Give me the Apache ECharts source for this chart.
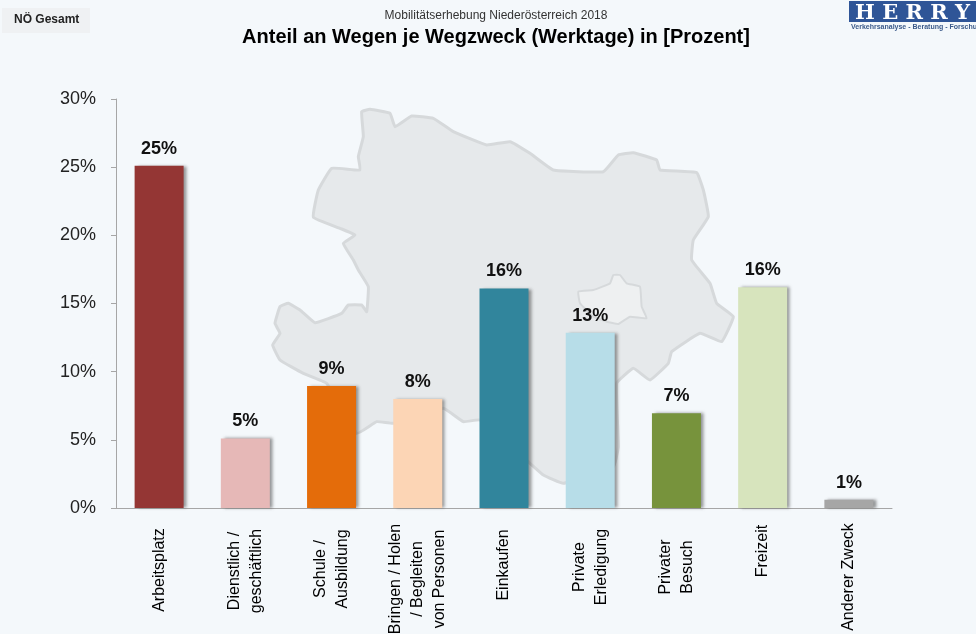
<!DOCTYPE html>
<html>
<head>
<meta charset="utf-8">
<title>Anteil an Wegen je Wegzweck</title>
<script src="https://cdn.jsdelivr.net/npm/echarts@6/dist/echarts.min.js"></script>
<style>
	html, body { margin: 0; padding: 0; background: #f4f8fb; }
	#myCharts { width: 976px; height: 634px; }
</style>
</head>
<body>
<div id="myCharts"></div>
<script>
	const categories = ['Arbeitsplatz', 'Dienstlich /\ngeschäftlich', 'Schule /\nAusbildung', 'Bringen / Holen\n/ Begleiten\nvon Personen', 'Einkaufen', 'Private\nErledigung', 'Privater\nBesuch', 'Freizeit', 'Anderer Zweck'];
	const values = [25.1, 5.1, 8.95, 8.0, 16.1, 12.85, 6.95, 16.2, 0.6];
	const barColors = ['#943634', '#e6b8b7', '#e46c0a', '#fcd5b5', '#31859c', '#b7dde8', '#77933c', '#d7e4bd', '#a6a6a6'];
	// the rotated labels hang from one top edge, with centred lines: shift each one along the axis direction
	const labelShift = [0, 1, -1, 9, -5, -3, -3, -19, 7];

	// map silhouette behind the bars (zoomed by 3, origin 260/100)
	const mapOutline = [[305,35],[330,28],[390,40],[405,80],[455,48],[520,55],[580,95],[680,135],[750,125],[810,160],[880,210],[1030,215],[1075,165],[1120,158],[1190,180],[1200,210],[1310,218],[1330,270],[1345,350],[1300,420],[1295,480],[1350,550],[1370,610],[1420,650],[1385,725],[1320,700],[1235,755],[1225,790],[1170,840],[1120,805],[1070,850],[1075,1040],[1060,1100],[910,1150],[850,1125],[810,1090],[660,960],[610,965],[550,925],[400,970],[350,965],[290,1000],[200,850],[130,820],[60,780],[38,735],[60,700],[45,670],[60,620],[85,610],[120,630],[165,668],[245,640],[265,615],[305,615],[320,635],[325,560],[295,510],[280,480],[250,430],[285,405],[240,385],[160,352],[175,270],[215,205],[300,210],[295,170],[310,110]];
	const wienOutline = [[955,575],[1000,570],[1050,550],[1060,525],[1080,525],[1100,550],[1140,560],[1145,620],[1160,655],[1110,650],[1075,672],[1040,665],[1000,650],[960,610]];

	function toPage(points) {
		return points.map(function (p) {
			return [p[0] / 3 + 260, p[1] / 3 + 100];
		});
	}

	let mychart = echarts.init(document.getElementById('myCharts'));
	mychart.setOption({
		animation: false,
		backgroundColor: '#f4f8fb',
		textStyle: { fontFamily: 'Liberation Sans' },
		title: [
			{ text: 'Mobilitätserhebung Niederösterreich 2018', left: 491, top: 5, textAlign: 'center', textStyle: { fontSize: 12, fontWeight: 'normal', color: '#333' } },
			{ text: 'Anteil an Wegen je Wegzweck (Werktage) in [Prozent]', left: 491, top: 22, textAlign: 'center', textStyle: { fontSize: 20, fontWeight: 'bold', color: '#000' } }
		],
		grid: { left: 116, right: 84, top: 99, bottom: 126, outerBoundsMode: 'none' },
		xAxis: {
			type: 'category',
			data: categories.map(function (c, i) {
				return {
					value: c,
					textStyle: {
						align: 'center',
						verticalAlign: 'middle',
						padding: labelShift[i] > 0 ? [0, labelShift[i] * 2, 0, 0] : [0, 0, 0, -labelShift[i] * 2]
					}
				};
			}),
			axisLine: { lineStyle: { color: '#a6a6a6' } },
			axisTick: { show: false },
			axisLabel: { interval: 0, rotate: 90, align: 'center', verticalAlign: 'middle', margin: 62, fontSize: 16, color: '#000', lineHeight: 22 }
		},
		yAxis: {
			type: 'value',
			min: 0,
			max: 30,
			interval: 5,
			splitLine: { show: false },
			axisLine: { show: true, lineStyle: { color: '#a6a6a6' } },
			axisTick: { show: true, length: 5, lineStyle: { color: '#a6a6a6' } },
			axisLabel: { formatter: '{value}%', fontSize: 18, color: '#222', margin: 20 }
		},
		series: [{
			type: 'bar',
			z: 3,
			barWidth: 49,
			data: values.map(function (v, i) {
				return { value: v, itemStyle: { color: barColors[i] } };
			}),
			itemStyle: { shadowColor: 'rgba(70,70,70,0.55)', shadowBlur: 3, shadowOffsetX: 3, shadowOffsetY: 0 },
			label: {
				show: true,
				position: 'top',
				distance: 8,
				fontSize: 18,
				fontWeight: 'bold',
				color: '#111',
				formatter: function (p) {
					return Math.round(p.value) + '%';
				}
			}
		}],
		graphic: [
			{ type: 'polygon', z: -2, shape: { points: toPage(mapOutline), smooth: 0.1 }, style: { fill: '#e6e9eb', stroke: '#d6d9db', lineWidth: 3, lineJoin: 'round' } },
			{ type: 'polygon', z: -1, shape: { points: toPage(wienOutline), smooth: 0.1 }, style: { fill: '#eef0f1', stroke: '#d6d9db', lineWidth: 2, lineJoin: 'round' } },
			{ type: 'rect', z: -1, shape: { x: 2, y: 8, width: 88, height: 25 }, style: { fill: '#eff1f3' } },
			{ type: 'text', z: 1, x: 14, y: 14, style: { text: 'NÖ Gesamt', fontFamily: 'Liberation Sans', fontSize: 12, fontWeight: 'bold', fill: '#222' } },
			// logo, runs off the right edge like in the picture
			{ type: 'rect', z: 1, shape: { x: 849, y: 1, width: 127, height: 21 }, style: { fill: '#2f5597' } },
			{ type: 'text', z: 2, x: 855, y: 3, style: { text: 'H E R R Y', fontFamily: 'DejaVu Serif', fontSize: 21, fontWeight: 'bold', fill: '#fff' } },
			{ type: 'text', z: 2, x: 851, y: 24, style: { text: 'Verkehrsanalyse - Beratung - Forschung', fontFamily: 'Liberation Sans', fontSize: 7, fontWeight: 'bold', fill: '#3b5a8a' } }
		]
	});
</script>
</body>
</html>
